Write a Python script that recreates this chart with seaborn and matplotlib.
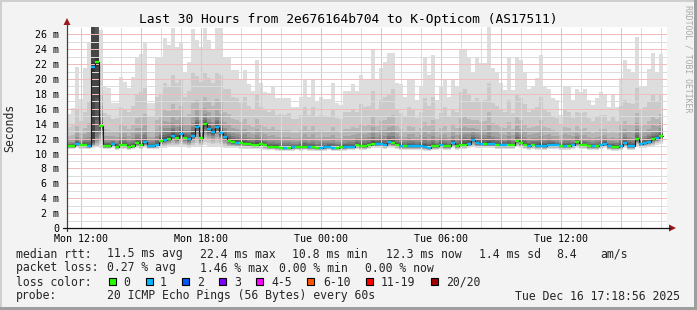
import numpy as np
import pandas as pd
import matplotlib
matplotlib.use("Agg")
import matplotlib.pyplot as plt
from matplotlib.patches import Polygon, Rectangle
import seaborn as sns

sns.set_style("white")
plt.rcParams["font.family"] = ["DejaVu Sans Mono", "DejaVu Sans"]

# ---------------- data ----------------
title = "Last 30 Hours from 2e676164b704 to K-Opticom (AS17511)"
start_hour = 11 + 18 / 60 + 56 / 3600      # Mon 11:18:56 (hours since Mon 00:00)
span_hours = 30.0
bin_hours = 0.2                             # 12 minute consolidation steps

median_ms = [
    11.0, 11.0, 11.3, 11.1, 11.2, 11.0, 21.6, 22.3, 13.7, 11.0,
    11.0, 11.3, 10.9, 11.2, 11.2, 10.9, 11.0, 11.4, 11.2, 11.5,
    11.0, 11.0, 11.1, 11.7, 11.85, 12.0, 12.4, 12.1, 12.6, 12.1,
    11.9, 12.4, 13.6, 12.1, 13.9, 13.3, 12.9, 13.6, 12.8, 12.2,
    11.7, 11.5, 11.45, 11.4, 11.3, 11.25, 11.2, 11.2, 11.25, 11.1,
    10.9, 10.9, 10.9, 10.8, 10.8, 10.8, 10.85, 10.85, 10.85, 10.9,
    10.85, 10.85, 10.8, 10.8, 10.85, 10.9, 10.8, 10.8, 10.85, 10.85,
    10.9, 10.9, 11.2, 11.0, 11.0, 11.1, 11.3, 11.3, 11.3, 11.1,
    11.5, 11.4, 11.2, 11.0, 11.0, 11.0, 11.0, 11.0, 11.0, 10.9,
    10.8, 11.0, 11.0, 11.2, 11.0, 11.0, 11.4, 11.05, 11.1, 11.2,
    11.3, 11.8, 11.4, 11.3, 11.3, 11.3, 11.3, 11.2, 11.2, 11.1,
    11.1, 11.1, 11.7, 11.4, 11.2, 11.05, 11.1, 11.05, 11.05, 11.0,
    11.2, 11.2, 11.1, 11.05, 11.05, 11.05, 11.1, 11.5, 11.1, 11.1,
    11.0, 11.0, 11.0, 11.1, 11.3, 11.0, 10.9, 10.9, 11.0, 11.4,
    11.0, 11.0, 11.9, 11.3, 11.45, 11.6, 11.9, 12.1, 12.3,
]

max_ms = [
    15.3, 16.1, 21.6, 17.3, 21.5, 24.8, 40.0, 40.0, 26.6, 19.1,
    18.8, 16.8, 16.8, 20.3, 19.6, 18.8, 20.3, 22.8, 23.4, 24.8,
    16.8, 16.8, 22.8, 22.8, 25.5, 24.5, 26.8, 24.3, 24.9, 21.0,
    22.3, 26.7, 25.3, 24.3, 26.8, 25.3, 23.9, 26.8, 26.8, 23.0,
    23.0, 21.2, 21.2, 19.9, 21.2, 19.3, 18.4, 22.5, 19.5, 18.3,
    18.1, 19.1, 17.5, 17.5, 17.5, 17.5, 16.3, 16.3, 17.6, 19.9,
    17.6, 19.9, 17.0, 17.6, 17.3, 17.3, 19.5, 16.8, 16.5, 18.4,
    18.4, 19.3, 18.4, 20.5, 20.0, 20.0, 24.0, 19.8, 21.5, 22.3,
    23.5, 23.5, 19.5, 19.3, 17.6, 20.0, 20.0, 17.2, 18.9, 22.8,
    20.5, 23.2, 17.2, 18.9, 19.8, 17.6, 19.8, 18.9, 24.0, 24.0,
    22.8, 20.9, 22.8, 22.1, 22.1, 27.2, 21.5, 20.9, 19.4, 18.5,
    22.9, 18.5, 23.0, 22.5, 21.0, 18.7, 19.1, 20.1, 23.2, 19.0,
    18.7, 17.4, 17.2, 15.2, 19.1, 18.9, 17.2, 18.7, 18.3, 18.7,
    17.2, 16.5, 17.4, 18.2, 17.9, 16.3, 17.9, 16.3, 20.2, 22.5,
    21.3, 20.8, 25.7, 19.0, 19.0, 21.4, 23.5, 20.8, 23.4,
]

p19_ms = [
    13.6, 13.9, 15.8, 14.3, 15.6, 17.0, 38.0, 38.0, 22.0, 15.4,
    15.2, 14.6, 14.8, 16.2, 16.0, 15.6, 16.4, 17.8, 18.2, 18.8,
    14.9, 15.0, 17.6, 18.0, 19.5, 19.0, 20.6, 19.4, 19.8, 17.6,
    18.4, 20.8, 20.4, 19.6, 21.0, 20.2, 19.5, 20.8, 20.6, 18.6,
    18.6, 17.6, 17.4, 16.8, 17.6, 16.4, 15.8, 17.8, 16.2, 15.8,
    15.6, 16.0, 15.2, 15.3, 15.2, 15.4, 14.6, 14.6, 15.2, 16.2,
    15.2, 16.3, 14.9, 15.2, 15.0, 15.0, 16.0, 14.8, 14.6, 15.6,
    15.6, 16.0, 15.6, 16.6, 16.2, 16.4, 18.4, 16.0, 17.2, 17.6,
    18.0, 18.6, 16.0, 15.4, 15.0, 16.2, 16.0, 14.8, 15.6, 17.4,
    16.4, 17.6, 14.6, 15.4, 16.2, 15.0, 16.0, 15.6, 18.2, 18.6,
    17.8, 17.0, 17.4, 17.0, 17.2, 19.5, 16.8, 16.4, 15.8, 15.6,
    17.2, 15.4, 17.8, 17.4, 16.6, 15.6, 15.8, 16.2, 17.6, 15.8,
    15.6, 15.0, 14.8, 13.8, 15.8, 15.6, 14.8, 15.6, 15.4, 15.6,
    14.8, 14.4, 15.0, 15.2, 15.2, 14.4, 15.0, 14.4, 16.4, 17.2,
    16.8, 16.6, 18.8, 16.0, 16.2, 17.0, 17.8, 17.0, 18.0,
]

min_ms = [
    10.6, 10.6, 10.7, 10.6, 10.6, 10.6, 10.8, 10.9, 10.7, 10.6,
    10.6, 10.7, 10.5, 10.6, 10.6, 10.5, 10.6, 10.7, 10.6, 10.7,
    10.6, 10.6, 10.6, 10.8, 10.8, 10.9, 10.9, 10.9, 11.0, 10.9,
    10.8, 10.9, 11.0, 10.9, 11.1, 11.0, 10.9, 11.0, 10.9, 10.8,
    10.7, 10.7, 10.7, 10.6, 10.6, 10.6, 10.6, 10.6, 10.6, 10.5,
    10.5, 10.5, 10.4, 10.4, 10.4, 10.4, 10.4, 10.5, 10.4, 10.5,
    10.4, 10.4, 10.4, 10.4, 10.4, 10.5, 10.4, 10.4, 10.4, 10.4,
    10.5, 10.5, 10.6, 10.5, 10.5, 10.6, 10.7, 10.7, 10.7, 10.6,
    10.8, 10.7, 10.6, 10.5, 10.5, 10.5, 10.5, 10.5, 10.5, 10.4,
    10.4, 10.5, 10.5, 10.6, 10.5, 10.5, 10.7, 10.5, 10.6, 10.6,
    10.7, 10.9, 10.7, 10.7, 10.7, 10.7, 10.7, 10.6, 10.6, 10.6,
    10.6, 10.6, 10.9, 10.7, 10.6, 10.5, 10.6, 10.5, 10.5, 10.5,
    10.6, 10.6, 10.6, 10.5, 10.5, 10.5, 10.6, 10.7, 10.6, 10.6,
    10.5, 10.5, 10.5, 10.6, 10.7, 10.5, 10.4, 10.4, 10.5, 10.7,
    10.5, 10.5, 10.9, 10.7, 10.8, 10.9, 11.0, 11.2, 11.3,
]

# lost packets per bin (index into loss colour legend)
loss_code = [
    0, 0, 1, 0, 0, 1, 1, 0, 0, 0,
    0, 1, 0, 0, 0, 0, 0, 0, 0, 1,
    1, 1, 1, 0, 1, 0, 1, 0, 1, 0,
    1, 1, 1, 0, 0, 1, 1, 1, 1, 1,
    0, 0, 1, 0, 0, 0, 0, 0, 0, 0,
    0, 0, 0, 0, 1, 0, 1, 0, 0, 0,
    1, 0, 0, 1, 1, 1, 1, 0, 0, 1,
    1, 1, 0, 0, 0, 0, 0, 1, 1, 1,
    1, 0, 0, 1, 0, 1, 1, 1, 1, 1,
    1, 0, 0, 1, 0, 0, 1, 0, 0, 0,
    1, 1, 1, 1, 0, 1, 1, 0, 1, 1,
    0, 0, 0, 0, 0, 1, 0, 1, 1, 1,
    1, 1, 1, 0, 1, 0, 1, 0, 0, 0,
    0, 1, 0, 1, 1, 1, 0, 0, 1, 1,
    1, 1, 0, 1, 1, 1, 0, 1, 0,
]

# full sorted ping sets for the two bimodal spike bins
spike_pings = {
    6: [10.8, 10.9, 11.0, 11.1, 11.2, 11.3, 11.4, 11.6, 12.0, 21.0,
        22.2, 29.0, 31.0, 32.0, 33.0, 34.0, 35.0, 36.0, 38.0, 40.0],
    7: [10.9, 11.0, 11.2, 11.4, 11.7, 12.2, 13.0, 14.5, 17.5, 21.8,
        22.8, 26.0, 28.0, 30.0, 31.0, 32.0, 33.0, 35.0, 37.0, 40.0],
}

x_tick_hours = [12, 18, 24, 30, 36]
x_tick_labels = ["Mon 12:00", "Mon 18:00", "Tue 00:00", "Tue 06:00", "Tue 12:00"]
y_ticks = list(range(0, 27, 2))
y_tick_labels = ["0"] + [f"{v} m" for v in y_ticks[1:]]

loss_labels = ["0", "1", "2", "3", "4-5", "6-10", "11-19", "20/20"]
loss_colors = ["#26ff00", "#00b8ff", "#0059ff", "#7e00ff",
               "#ff00ff", "#ff5500", "#ff0000", "#a10000"]

rtt_stats = ["11.5 ms avg", "22.4 ms max", "10.8 ms min", "12.3 ms now",
             "1.4 ms sd", "8.4", "am/s"]
loss_stats = ["0.27 % avg", "1.46 % max", "0.00 % min", "0.00 % now"]
probe_text = "20 ICMP Echo Pings (56 Bytes) every 60s"
stamp_text = "Tue Dec 16 17:18:56 2025"
watermark = "RRDTOOL / TOBI OETIKER"

# ---------------- figure ----------------
W, H = 697, 310
fig = plt.figure(figsize=(W / 100, H / 100), dpi=100)
fig.patch.set_facecolor("#f3f3f3")

ax_l, ax_r, ax_t, ax_b = 67, 667, 27, 228
ax = fig.add_axes([ax_l / W, 1 - ax_b / H, (ax_r - ax_l) / W, (ax_b - ax_t) / H])
ax.set_facecolor("white")
y_top = (ax_b - ax_t) / 7.45
ax.set_xlim(start_hour, start_hour + span_hours)
ax.set_ylim(0, y_top)
for s in ax.spines.values():
    s.set_visible(False)

n = len(median_ms)
edges = start_hour + bin_hours * np.arange(n + 1)
med = np.asarray(median_ms, float)
lo = np.asarray(min_ms, float)
up = np.asarray(p19_ms, float)
top = np.asarray(max_ms, float)

# rebuild the 20 sorted pings of each bin for the smoke layers
lo_fr = [0.82, 0.66, 0.52, 0.40, 0.30, 0.21, 0.14, 0.08, 0.04]      # p2..p10
up_fr = [0.01, 0.025, 0.05, 0.085, 0.13, 0.20, 0.32, 0.52]          # p11..p18
pings = np.zeros((n, 20))
pings[:, 0] = lo
for j, f in enumerate(lo_fr):
    pings[:, 1 + j] = med - f * (med - lo)
for j, f in enumerate(up_fr):
    pings[:, 10 + j] = med + f * (up - med)
pings[:, 18] = up
pings[:, 19] = top
for k, vals in spike_pings.items():
    pings[k] = vals


def ext(a):
    return np.append(a, a[-1])


half = 10
for ibot in range(1, half + 1):
    g = int(190 / half * (half - ibot)) + 50
    col = "#%02x%02x%02x" % (g, g, g)
    ax.fill_between(edges, ext(pings[:, ibot - 1]), ext(pings[:, 20 - ibot]),
                    step="post", color=col, lw=0, zorder=1)

# grid (dotted, 1px on / 1px off)
major_c, minor_c = "#f0bcbc", "#dcdcdc"
dot = (0, (1, 1))
for h in range(12, 42):
    ax.axvline(h, color=major_c if h % 3 == 0 else minor_c, lw=0.72, ls=dot,
               zorder=2, antialiased=False)
for v in range(1, 27):
    ax.axhline(v, color=major_c if v % 2 == 0 else minor_c, lw=0.72, ls=dot,
               zorder=2, antialiased=False)

# median line (step connector) + loss coloured median marks
df = pd.DataFrame({"hour": edges, "median": ext(med)})
sns.lineplot(data=df, x="hour", y="median", ax=ax, drawstyle="steps-post",
             estimator=None, sort=False, color="#1e1e1e", lw=0.8, zorder=3,
             legend=False)
ax.hlines(med, edges[:-1], edges[1:], colors=[loss_colors[c] for c in loss_code],
          lw=1.7, zorder=4)
ax.set_xlabel("")
ax.set_ylabel("")

ax.set_xticks(x_tick_hours)
ax.set_xticklabels(x_tick_labels)
ax.set_yticks(y_ticks)
ax.set_yticklabels(y_tick_labels)
ax.tick_params(axis="both", labelsize=7.2, colors="#000000", length=2, width=0.7,
               direction="out")
ax.tick_params(axis="y", pad=3.6)
ax.tick_params(axis="x", pad=2.5)

# ---------------- overlay in pixel coordinates ----------------
ov = fig.add_axes([0, 0, 1, 1], zorder=10)
ov.set_xlim(0, W)
ov.set_ylim(H, 0)
ov.axis("off")
ov.patch.set_alpha(0)

# frame (3d shade)
ov.add_patch(Rectangle((0, 0), W, 2, color="#cfcfcf", lw=0))
ov.add_patch(Rectangle((0, 0), 2, H, color="#cfcfcf", lw=0))
ov.add_patch(Rectangle((0, H - 3), W, 3, color="#9e9e9e", lw=0))
ov.add_patch(Rectangle((W - 3, 0), 3, H, color="#9e9e9e", lw=0))

# axes lines and arrows
ov.plot([ax_l, ax_l], [ax_b + 3, 24], color="#404040", lw=0.9)
ov.plot([ax_l - 4, ax_r + 3], [ax_b, ax_b], color="#111111", lw=0.9)
ov.add_patch(Polygon([[ax_l - 3.5, 25], [ax_l + 3.5, 25], [ax_l, 18]], closed=True,
                     color="#9a1a1a", lw=0))
ov.add_patch(Polygon([[ax_r + 2, ax_b - 3.5], [ax_r + 2, ax_b + 3.5], [ax_r + 9, ax_b]],
                     closed=True, color="#9a1a1a", lw=0))

ov.text(348, 19, title, ha="center", va="center", fontsize=9.3, color="#000000")
ov.text(10, 128, "Seconds", ha="center", va="center", rotation=90, fontsize=8.3)
ov.text(688, 5, watermark, ha="center", va="top", rotation=270, fontsize=5.9,
        color="#a8a8a8")

fs = 8.3
row_y = [254, 268, 282, 296]
ov.text(16, row_y[0], "median rtt:", fontsize=fs, va="center")
for txt, x in zip(rtt_stats, [107, 200, 292, 386, 479, 556, 600]):
    ov.text(x, row_y[0], txt, fontsize=fs, va="center")
ov.text(16, row_y[1], "packet loss:", fontsize=fs, va="center")
for txt, x in zip(loss_stats, [107, 200, 279, 365]):
    ov.text(x, row_y[1], txt, fontsize=fs, va="center")
ov.text(16, row_y[2], "loss color:", fontsize=fs, va="center")
box_x = [108.5, 145.5, 182, 219, 255.5, 307, 366, 431]
lab_x = [123, 160, 197, 234, 271, 323, 381, 446]
for lbl, col, bx, lx in zip(loss_labels, loss_colors, box_x, lab_x):
    ov.add_patch(Rectangle((bx, row_y[2] - 4), 7, 7, facecolor=col,
                           edgecolor="#000000", lw=0.8))
    ov.text(lx, row_y[2], lbl, fontsize=fs, va="center")
ov.text(16, row_y[3], "probe:", fontsize=fs, va="center")
ov.text(107, row_y[3], probe_text, fontsize=fs, va="center")
ov.text(680, row_y[3], stamp_text, fontsize=fs, va="center", ha="right")

fig.savefig("out.png", dpi=100, facecolor=fig.get_facecolor())
